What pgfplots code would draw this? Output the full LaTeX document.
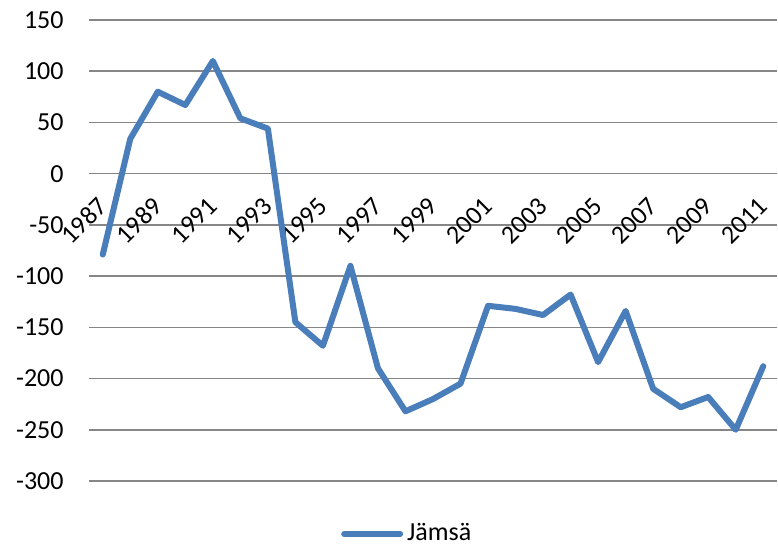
\documentclass[border=0pt]{standalone}
\usepackage{fontspec}
\setmainfont{Carlito}
\usepackage{pgfplots}
\pgfplotsset{compat=1.18}
\definecolor{linec}{RGB}{74,126,187}
\definecolor{gridc}{RGB}{134,134,134}
\begin{document}
\fontsize{13}{15}\selectfont
\begin{tikzpicture}
\useasboundingbox (0,0) rectangle (389pt,273pt);
\begin{axis}[
  at={(44.5pt,32.5pt)}, anchor=south west,
  scale only axis, width=344pt, height=230.5pt,
  xmin=1986.5, xmax=2011.5,
  ymin=-300, ymax=150,
  ytick={-300,-250,...,150},
  xtick={1987,1989,...,2011},
  axis x line*=middle,
  axis y line*=left,
  axis line style={draw=none},
  major tick length=0pt,
  ymajorgrids,
  grid style={gridc, line width=0.75pt},
  /pgf/number format/assume math mode=true,
  /pgf/number format/set thousands separator={},
  tick label style={font=\fontsize{13}{15}\selectfont},
  yticklabel style={anchor=east, inner sep=0pt, xshift=-12.5pt},
  xticklabel style={yshift=-14pt, rotate=45, anchor=east, inner sep=0pt},
  clip=false,
  legend style={at={(0.464,-0.115)}, anchor=center, draw=none, fill=none,
    font=\fontsize{13}{15}\selectfont, inner sep=0pt,
    /tikz/every even column/.append style={column sep=0pt}},
  legend image code/.code={\draw[#1] (0pt,0pt) -- (28pt,0pt);},
]
\addplot[linec, line width=3pt, line join=round, line cap=round] coordinates {
(1987,-79) (1988,34) (1989,80) (1990,67) (1991,110) (1992,54) (1993,44)
(1994,-145) (1995,-168) (1996,-90) (1997,-190) (1998,-232) (1999,-220)
(2000,-205) (2001,-129) (2002,-132) (2003,-138) (2004,-118) (2005,-184)
(2006,-134) (2007,-210) (2008,-228) (2009,-218) (2010,-250) (2011,-188)
};
\addlegendentry{Jämsä}
\end{axis}
\end{tikzpicture}
\end{document}
